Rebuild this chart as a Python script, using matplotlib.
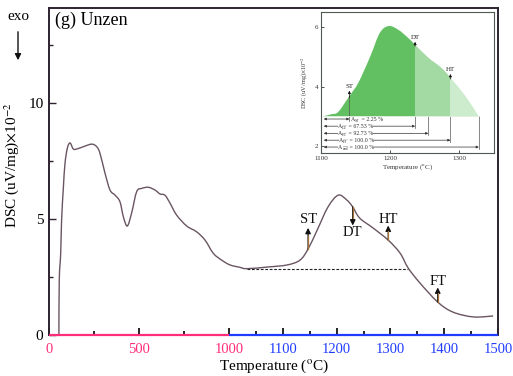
import numpy as np
import matplotlib
matplotlib.use("Agg")
import matplotlib.pyplot as plt
from matplotlib.ticker import FixedLocator
from matplotlib.path import Path
from matplotlib.patches import PathPatch, FancyArrowPatch, Rectangle

plt.rcParams['font.family'] = ['Liberation Serif', 'DejaVu Serif']
plt.rcParams['mathtext.fontset'] = 'stix'

# ---- main DSC curve (Temperature in °C, DSC in uV/mg x 1e-2) ----
temp = [55, 57, 65, 70, 80, 89, 102, 117, 135, 154, 191, 237, 265, 283, 311, 339,
        367, 394, 413, 435, 459, 487, 515, 552, 589, 617, 644, 672, 709, 765, 820,
        867, 913, 959, 1002, 1020, 1033, 1071, 1108, 1132, 1147, 1164, 1184, 1203,
        1219, 1230, 1243, 1268, 1296, 1318, 1333, 1355, 1388, 1416, 1454, 1491]
dsc = [0.0, 2.37, 3.53, 4.96, 6.38, 7.41, 8.06, 8.28, 8.02, 8.02, 8.12, 8.23, 8.12,
       7.84, 6.98, 6.25, 6.03, 5.75, 5.10, 4.70, 5.26, 6.18, 6.32, 6.37, 6.25, 6.08,
       6.03, 5.69, 5.17, 4.70, 4.45, 4.09, 3.52, 3.23, 3.02, 2.92, 2.86, 2.93, 3.02,
       3.23, 3.71, 4.53, 5.52, 6.03, 5.82, 5.52, 5.04, 4.61, 4.09, 3.53, 2.89, 2.24,
       1.42, 0.99, 0.78, 0.82]

baseline_T = [1033, 1333]
baseline_v = 2.84

# characteristic temperatures: name, T, curve value, arrow tip, label y
marks = ['ST', 'DT', 'HT', 'FT']
mark_T = [1147, 1230, 1296, 1388]
mark_v = [3.71, 5.52, 4.09, 1.42]
mark_tip = [4.62, 4.72, 4.72, 2.05]
mark_text = [4.97, 4.42, 5.00, 2.30]

# ---- inset: area between peak and baseline ----
in_T = [1103, 1115, 1125, 1141, 1154, 1171, 1185, 1198, 1212, 1226, 1236, 1255,
        1274, 1287, 1309, 1328]
in_v = [3.0, 3.07, 3.15, 3.68, 4.13, 5.0, 5.8, 6.03, 5.9, 5.63, 5.4, 4.97, 4.63,
        4.3, 3.67, 3.0]
in_base = 3.0
area_names = ['ST', 'DT', 'HT', 'FT', 'end']
area_pct = ['2.25', '67.53', '92.73', '100.0', '100.0']
area_end_T = [1141, 1236, 1255, 1287, 1328]
area_row_y = [2.91, 2.67, 2.43, 2.20, 1.97]
area_text_T = [1143, 1124, 1124, 1126, 1125]

PINK = '#ff2d7a'
BLUE = '#1f3cff'
CURVE = '#6a5562'
DARK = '#2e2230'


def fwd(t):
    t = np.asarray(t, dtype=float)
    return np.where(t <= 1000, t * 0.18, 180 + (t - 1000) * 0.538)


def inv(p):
    p = np.asarray(p, dtype=float)
    return np.where(p <= 180, p / 0.18, 1000 + (p - 180) / 0.538)


def bezier_through(x, y, to_scaled=None, from_scaled=None):
    """Catmull-Rom curve through the points as cubic Bezier segments."""
    X = np.asarray(x, dtype=float) if to_scaled is None else to_scaled(x)
    P = np.column_stack([X, np.asarray(y, dtype=float)])
    P = np.vstack([P[0], P, P[-1]])
    verts = [P[1]]
    codes = [Path.MOVETO]
    for i in range(1, len(P) - 2):
        c1 = P[i] + (P[i + 1] - P[i - 1]) / 6.0
        c2 = P[i + 1] - (P[i + 2] - P[i]) / 6.0
        verts += [c1, c2, P[i + 1]]
        codes += [Path.CURVE4] * 3
    verts = np.array(verts)
    if from_scaled is not None:
        verts[:, 0] = from_scaled(verts[:, 0])
    return verts, codes


fig = plt.figure(figsize=(5.13, 3.76), dpi=100)
ax = fig.add_axes([49 / 513, 41 / 376, 449 / 513, 327 / 376])
ax.set_xscale('function', functions=(fwd, inv))
ax.set_xlim(0, 1500)
ax.set_ylim(0, 14.1)

v_main, c_main = bezier_through(temp, dsc, fwd, inv)
ax.add_patch(PathPatch(Path(v_main, c_main), fill=False, edgecolor=CURVE,
                       lw=1.0, zorder=3))
ax.plot(baseline_T, [baseline_v, baseline_v], color='#222222', lw=0.8,
        ls=(0, (2.5, 1.5)), zorder=2)

for name, t, v, tip, ty in zip(marks, mark_T, mark_v, mark_tip, mark_text):
    ax.annotate('', xy=(t, tip), xytext=(t, v),
                arrowprops=dict(arrowstyle='-|>', color='#111111', lw=0.9,
                                mutation_scale=8, shrinkA=0, shrinkB=0))
    ax.plot([t, t], [v, v + (tip - v) * 0.6], color='#a8743a', lw=0.9, zorder=4)
    ax.text(t, ty, name, ha='center', va='center', fontsize=10.5, color='#111111')

# axes styling
for side in ['left', 'top', 'right']:
    ax.spines[side].set_color(DARK)
    ax.spines[side].set_linewidth(1.4)
ax.spines['bottom'].set_visible(False)
ax.plot([0, 1000], [0, 0], color=PINK, lw=1.6, clip_on=False, zorder=5,
        solid_capstyle='butt')
ax.plot([1000, 1500], [0, 0], color=BLUE, lw=1.6, clip_on=False, zorder=5,
        solid_capstyle='butt')

xmaj = [0, 500, 1000, 1100, 1200, 1300, 1400, 1500]
xmin = [250, 750, 1050, 1150, 1250, 1350, 1450]
ax.xaxis.set_major_locator(FixedLocator(xmaj))
ax.xaxis.set_minor_locator(FixedLocator(xmin))
ax.set_xticklabels([str(v) for v in xmaj])
ax.yaxis.set_major_locator(FixedLocator([0, 5, 10]))
ax.yaxis.set_minor_locator(FixedLocator([2.5, 7.5, 12.5]))
ax.set_yticklabels(['0', '5', '10'])
ax.tick_params(axis='x', which='major', direction='in', length=5, width=1.2,
               labelsize=10.5, pad=6)
ax.tick_params(axis='x', which='minor', direction='in', length=3, width=1.2)
ax.tick_params(axis='y', which='major', direction='in', length=5, width=1.0,
               labelsize=11, pad=4, color=DARK)
ax.tick_params(axis='y', which='minor', direction='in', length=3, width=1.0,
               color=DARK)

for tk, v in zip(ax.xaxis.get_major_ticks(), xmaj):
    c = PINK if v <= 1000 else BLUE
    tk.tick1line.set_color(c)
    tk.label1.set_color(c)
for tk, v in zip(ax.xaxis.get_minor_ticks(), xmin):
    tk.tick1line.set_color(PINK if v <= 1000 else BLUE)

ax.set_xlabel('Temperature ($^{\\mathrm{o}}$C)', fontsize=11, labelpad=1)
ax.set_ylabel('DSC (uV/mg)$\\times$10$^{-2}$', fontsize=11, labelpad=8)
ax.yaxis.set_label_coords(-0.062, 0.52)

ax.text(0.013, 0.963, '(g) Unzen', transform=ax.transAxes, fontsize=13,
        ha='left', va='center')
fig.text(18 / 513, 1 - 17 / 376, 'exo', fontsize=11, ha='center', va='center')
fig.add_artist(FancyArrowPatch(
    (18 / 513, 1 - 29 / 376), (18 / 513, 1 - 63 / 376),
    transform=fig.transFigure, arrowstyle='-|>', mutation_scale=9,
    color='#111111', lw=1.0))

# ---- inset ----
axi = fig.add_axes([321 / 513, 223 / 376, 173 / 513, 141 / 376])
axi.set_xlim(1100, 1350)
axi.set_ylim(1.77, 6.5)

# area under the peak, closed along the baseline
v_in, c_in = bezier_through(in_T, in_v)
v_area = np.vstack([v_in, [[in_T[0], in_base]]])
c_area = list(c_in) + [Path.CLOSEPOLY]
shades = [(1100, 1236, '#62c062'), (1236, 1287, '#a3d9a3'), (1287, 1350, '#cdeccd')]
for t0, t1, col in shades:
    patch = PathPatch(Path(v_area, c_area), facecolor=col, edgecolor='none',
                      zorder=1)
    axi.add_patch(patch)
    clip = Rectangle((t0, 0), t1 - t0, 10, transform=axi.transData)
    patch.set_clip_path(clip)

line_c = '#555555'
txt_c = '#333333'
white = dict(fc='white', ec='none', pad=0.0)
for name, pct, te, ry, tx in zip(area_names, area_pct, area_end_T, area_row_y,
                                 area_text_T):
    top = in_v[in_T.index(te)] if name == 'ST' else in_base
    axi.plot([te, te], [ry - 0.05, top], color=line_c, lw=0.5, zorder=2)
    axi.annotate('', xy=(1104, ry), xytext=(te, ry),
                 arrowprops=dict(arrowstyle='<|-|>', color=txt_c, lw=0.5,
                                 mutation_scale=3.5, shrinkA=0, shrinkB=0))
    # "A" with a subscript, then the percentage
    a = axi.text(tx, ry, 'A', fontsize=4.2, ha='left', va='center',
                 color=txt_c, zorder=3, bbox=white)
    s = axi.annotate(name, xy=(1, 0.1), xycoords=a, fontsize=2.8, ha='left',
                     va='center', color=txt_c, zorder=3, bbox=white)
    axi.annotate(' = %s %%' % pct, xy=(1, 0.5), xycoords=(s, a), fontsize=4.2,
                 ha='left', va='center', color=txt_c, zorder=3, bbox=white)
axi.plot([1103, 1328], [in_base, in_base], color='#dfeedf', lw=0.6, zorder=2)

in_marks = [('ST', 1141, 3.68, 3.86, 3.92), ('DT', 1236, 5.4, 5.5, 5.56),
            ('HT', 1287, 4.3, 4.42, 4.48)]
for name, t, v, tip, ty in in_marks:
    axi.annotate('', xy=(t, tip), xytext=(t, v - 0.05),
                 arrowprops=dict(arrowstyle='-|>', color='#111111', lw=0.5,
                                 mutation_scale=4, shrinkA=0, shrinkB=0))
    axi.text(t, ty, name, fontsize=5, ha='center', va='bottom', color='#222222')

axi.set_xticks([1100, 1200, 1300])
axi.set_yticks([2, 4, 6])
axi.tick_params(direction='in', length=2.5, width=0.6, labelsize=5, pad=2,
                color=txt_c, labelcolor=txt_c)
for s in axi.spines.values():
    s.set_color('#4d5a52')
    s.set_linewidth(0.8)
axi.set_xlabel('Temperature ($^{\\mathrm{o}}$C)', fontsize=5, labelpad=1,
               color=txt_c)
axi.set_ylabel('DSC (uV/mg)$\\times$10$^{-2}$', fontsize=4.5, labelpad=3,
               color=txt_c)

fig.savefig('out.png', dpi=100)
